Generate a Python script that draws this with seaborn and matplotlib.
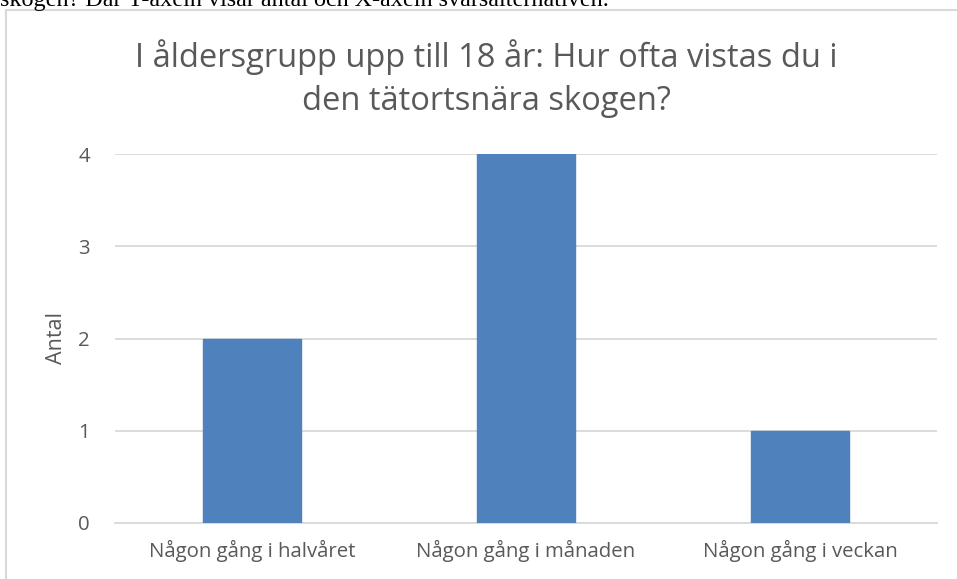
import matplotlib
matplotlib.use("Agg")
import matplotlib.pyplot as plt
import seaborn as sns
import pandas as pd
from matplotlib.patches import Rectangle

categories = ["Någon gång i halvåret", "Någon gång i månaden", "Någon gång i veckan"]
values = [2, 4, 1]
yticks = [0, 1, 2, 3, 4]
title = "I åldersgrupp upp till 18 år: Hur ofta vistas du i\nden tätortsnära skogen?"
ylabel = "Antal"
top_text = "skogen? Där Y-axeln visar antal och X-axeln svarsalternativen."

sns.set_theme(style="white")
plt.rcParams['font.family'] = ['Open Sans', 'DejaVu Sans']

df = pd.DataFrame({"cat": categories, "val": values})

W, H = 957, 579
fig = plt.figure(figsize=(W / 100, H / 100), dpi=100)
fig.patch.set_facecolor("white")

# outer chart border
fig.patches.append(Rectangle((6 / W, -0.1), 1.2, 1 - 10 / H + 0.1, transform=fig.transFigure,
                             fill=False, edgecolor="#d9d9d9", linewidth=1.5, zorder=0))

fig.text(0.0, 1 - 6 / H, top_text, fontsize=17.4, family=['Liberation Serif'], color="black",
         ha="left", va="baseline")

ax = fig.add_axes([115 / W, 1 - 523 / H, (937 - 115) / W, (523 - 154) / H])
sns.barplot(data=df, x="cat", y="val", color="#4f81bd", saturation=1, width=0.355, ax=ax, zorder=3)
for p in ax.patches:
    p.set_edgecolor("#4f81bd")

ax.set_ylim(0, 4)
ax.set_xlim(-0.5, 2.5)
ax.set_yticks(yticks)
ax.yaxis.grid(True, color="#d9d9d9", linewidth=1.3, zorder=0)
ax.set_axisbelow(True)
for s in ["top", "right", "left"]:
    ax.spines[s].set_visible(False)
ax.spines["bottom"].set_color("#d9d9d9")
ax.spines["bottom"].set_linewidth(1.3)
ax.tick_params(axis="both", length=0, labelsize=14.7, colors="#595959")
ax.tick_params(axis="y", pad=18)
ax.tick_params(axis="x", pad=12)
ax.set_xlabel("")
ax.set_ylabel(ylabel, fontsize=15.5, color="#595959", labelpad=8)

fig.text(486 / W, 1 - 79 / H, title, ha="center", va="center", fontsize=23.5, color="#595959",
         linespacing=1.4)

fig.savefig("out.png", dpi=100)
